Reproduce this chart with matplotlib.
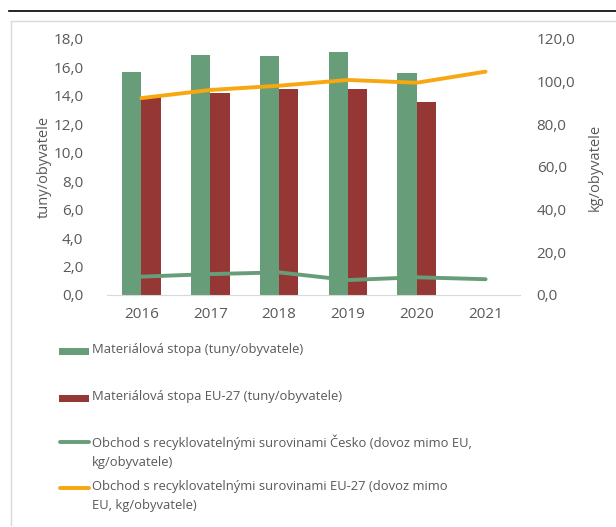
import matplotlib
matplotlib.use("Agg")
import matplotlib.pyplot as plt
from matplotlib.patches import Rectangle
from matplotlib.lines import Line2D
import numpy as np

years = ["2016", "2017", "2018", "2019", "2020", "2021"]
stopa_cz = [15.7, 16.9, 16.8, 17.1, 15.6, None]
stopa_eu = [13.9, 14.2, 14.5, 14.5, 13.6, None]
obchod_cz = [8.6, 9.8, 10.6, 7.0, 8.3, 7.4]
obchod_eu = [92.3, 96.1, 98.1, 100.8, 99.5, 104.7]

left_ticks = [0, 2, 4, 6, 8, 10, 12, 14, 16, 18]
right_ticks = [0, 20, 40, 60, 80, 100, 120]

labels = [
    "Materiálová stopa (tuny/obyvatele)",
    "Materiálová stopa EU-27 (tuny/obyvatele)",
    "Obchod s recyklovatelnými surovinami Česko (dovoz mimo EU,\nkg/obyvatele)",
    "Obchod s recyklovatelnými surovinami EU-27 (dovoz mimo\nEU, kg/obyvatele)",
]

GREEN = "#679E79"
RED = "#943735"
ORANGE = "#F7A70F"
TXT = "#595959"

plt.rcParams["font.family"] = ["Open Sans", "DejaVu Sans"]

fig = plt.figure(figsize=(6.16, 5.27), dpi=100)
W, H = 616, 527

def fx(px):
    return px / W

def fy(py):
    return 1 - py / H

# frame decorations
fig.add_artist(Line2D([fx(9), 1.0], [fy(11), fy(11)], color="black", lw=1.2))
fig.add_artist(Line2D([fx(11), 1.0], [fy(20.5), fy(20.5)], color="#D9D9D9", lw=1.0))
fig.add_artist(Line2D([fx(11), fx(11)], [fy(20.5), fy(525)], color="#D9D9D9", lw=1.0))

ax = fig.add_axes([fx(107), fy(295), fx(520) - fx(107), fy(39) - fy(295)])
ax2 = ax.twinx()

x = np.arange(len(years))
bw = 0.28
cz_x = [xi for xi, v in zip(x, stopa_cz) if v is not None]
cz_v = [v for v in stopa_cz if v is not None]
eu_x = [xi for xi, v in zip(x, stopa_eu) if v is not None]
eu_v = [v for v in stopa_eu if v is not None]
ax.bar(np.array(cz_x) - bw / 2, cz_v, width=bw, color=GREEN, zorder=2)
ax.bar(np.array(eu_x) + bw / 2, eu_v, width=bw, color=RED, zorder=2)

ax2.plot(x, obchod_cz, color=GREEN, lw=2.8, solid_capstyle="round")
ax2.plot(x, obchod_eu, color=ORANGE, lw=2.8, solid_capstyle="round")

ax.set_xlim(-0.5, len(years) - 0.5)
ax.set_ylim(0, 18)
ax2.set_ylim(0, 120)
ax.set_yticks(left_ticks)
ax.set_yticklabels([f"{t:.1f}".replace(".", ",") for t in left_ticks])
ax2.set_yticks(right_ticks)
ax2.set_yticklabels([f"{t:.1f}".replace(".", ",") for t in right_ticks])
ax.set_xticks(x)
ax.set_xticklabels(years)

for a in (ax, ax2):
    for s in ("top", "left", "right", "bottom"):
        a.spines[s].set_visible(False)
    a.tick_params(length=0, labelsize=11, colors=TXT)
ax.spines["bottom"].set_visible(True)
ax.spines["bottom"].set_color("#D9D9D9")
ax.tick_params(axis="y", pad=17)
ax.tick_params(axis="x", pad=9)
ax2.tick_params(axis="y", pad=12)

ax.set_ylabel("tuny/obyvatele", fontsize=10.5, color=TXT, labelpad=1)
ax2.set_ylabel("kg/obyvatele", fontsize=10.5, color=TXT, labelpad=9)

# legend
hx0, hx1 = 59, 89
tx = 92
ys = [351, 398, 442, 488]
fig.add_artist(Rectangle((fx(hx0), fy(ys[0] + 3.5)), fx(hx1) - fx(hx0), (7 / H), color=GREEN, lw=0))
fig.add_artist(Rectangle((fx(hx0), fy(ys[1] + 3.5)), fx(hx1) - fx(hx0), (7 / H), color=RED, lw=0))
fig.add_artist(Line2D([fx(hx0 + 1), fx(hx1)], [fy(ys[2]), fy(ys[2])], color=GREEN, lw=2.8, solid_capstyle="round"))
fig.add_artist(Line2D([fx(hx0 + 1), fx(hx1)], [fy(ys[3]), fy(ys[3])], color=ORANGE, lw=2.8, solid_capstyle="round"))
for yy, lab in zip(ys, labels):
    fig.text(fx(tx), fy(yy - 8), lab, fontsize=9.4, color=TXT, va="top", ha="left",
             linespacing=1.65)

fig.savefig("out.png", dpi=100)
